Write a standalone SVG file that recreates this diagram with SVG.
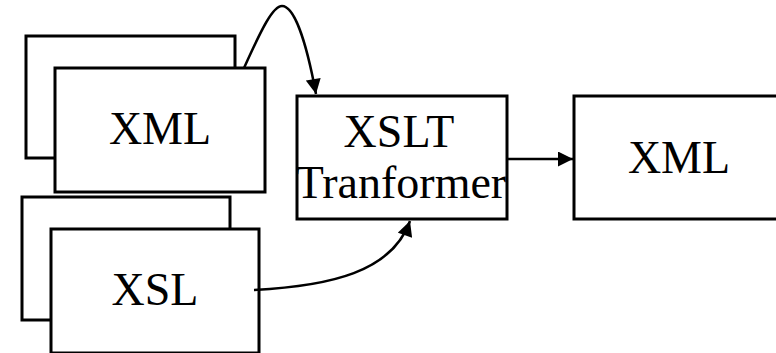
<svg xmlns="http://www.w3.org/2000/svg" width="776" height="353" viewBox="0 0 776 353">
<defs>
<style>
.box{fill:#fff;stroke:#000;stroke-width:3}
.lbl{font-family:"Liberation Serif","Times New Roman",serif;font-size:46px;fill:#000;text-anchor:middle}
.conn{fill:none;stroke:#000;stroke-width:2.5}
</style>
<marker id="ah" viewBox="0 0 10 10" refX="10" refY="5" markerWidth="17" markerHeight="15" markerUnits="userSpaceOnUse" orient="auto">
<path d="M0,0 L10,5 L0,10 z" fill="#000"/>
</marker>
</defs>
<rect width="776" height="353" fill="#fff"/>
<g id="xml-in">
<rect class="box" x="26" y="36" width="209" height="122"/>
<rect class="box" x="55" y="68" width="210" height="124"/>
<text class="lbl" x="160" y="144">XML</text>
</g>
<g id="xsl-in">
<rect class="box" x="22" y="197" width="208" height="123"/>
<rect class="box" x="51" y="229" width="208" height="124"/>
<text class="lbl" x="155" y="305">XSL</text>
</g>
<g id="xslt">
<rect class="box" x="297" y="96" width="210" height="123"/>
<text class="lbl" x="399" y="147">XSLT</text>
<text class="lbl" x="401" y="198">Tranformer</text>
</g>
<g id="xml-out">
<rect class="box" x="574" y="96" width="210" height="123"/>
<text class="lbl" x="679" y="173">XML</text>
</g>
<g id="connectors">
<path class="conn" d="M244,68 C262,28 273,6 282,6 C294,6 306,40 316,94" marker-end="url(#ah)"/>
<path class="conn" d="M254,290 C330,286 392,272 410,221" marker-end="url(#ah)"/>
<path class="conn" d="M507,159 L573,159" marker-end="url(#ah)"/>
</g>
</svg>
